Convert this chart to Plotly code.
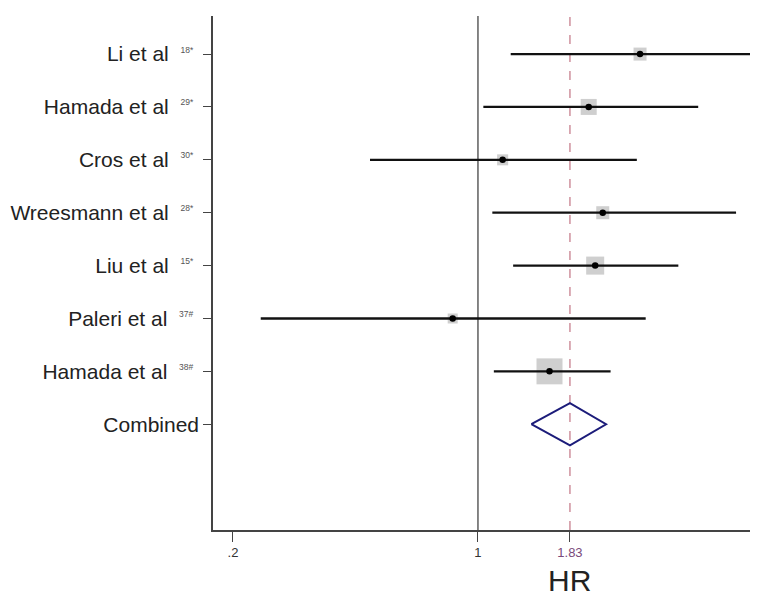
import math
import plotly.graph_objects as go

studies = ["Li et al", "Hamada et al", "Cros et al", "Wreesmann et al",
           "Liu et al", "Paleri et al", "Hamada et al"]
refs = ["18*", "29*", "30*", "28*", "15*", "37#", "38#"]
hr = [2.90, 2.07, 1.176, 2.27, 2.16, 0.847, 1.60]
lo = [1.24, 1.036, 0.492, 1.099, 1.26, 0.240, 1.11]
hi = [7.5, 4.25, 2.84, 5.45, 3.73, 3.01, 2.39]
weights = [9.3, 14.1, 6.7, 9.3, 17.9, 5.5, 37.2]

combined_label = "Combined"
combined_hr = 1.83
combined_lo = 1.42
combined_hi = 2.32

xtick_vals = [0.2, 1, 1.83]
xtick_text = [".2", "1", "1.83"]

n = len(studies)
ypos = list(range(1, n + 1))
y_comb = n + 1

fig = go.Figure()

# weight boxes
fig.add_trace(go.Scatter(
    x=hr, y=ypos, mode="markers",
    marker=dict(symbol="square", size=[4.26 * math.sqrt(w) for w in weights],
                color="#bababa", line=dict(width=0)),
    hoverinfo="skip", showlegend=False))

# CI lines
for i in range(n):
    fig.add_trace(go.Scatter(
        x=[lo[i], hi[i]], y=[ypos[i], ypos[i]], mode="lines",
        line=dict(color="#111111", width=2.3),
        hoverinfo="skip", showlegend=False))

# point estimates
fig.add_trace(go.Scatter(
    x=hr, y=ypos, mode="markers",
    marker=dict(symbol="circle", size=6.5, color="#000000"),
    hoverinfo="skip", showlegend=False))

# combined diamond
fig.add_trace(go.Scatter(
    x=[combined_lo, combined_hr, combined_hi, combined_hr, combined_lo],
    y=[y_comb, y_comb - 0.4, y_comb, y_comb + 0.4, y_comb],
    mode="lines", line=dict(color="#1c1c7a", width=2),
    hoverinfo="skip", showlegend=False))

# reference lines
fig.add_shape(type="line", xref="x", yref="paper",
              x0=1, x1=1, y0=0, y1=1,
              line=dict(color="#444444", width=1.3), layer="below")
fig.add_shape(type="line", xref="x", yref="paper",
              x0=combined_hr, x1=combined_hr, y0=0, y1=1,
              line=dict(color="#c27484", width=1.2, dash="dash"), layer="below")

NB = "\u00a0"
ytext = [f"{s}{NB}{NB}<sup><span style='font-size:8.5px;color:#555'>{r}</span></sup>{NB}"
         for s, r in zip(studies, refs)] + [combined_label]

xtext = [xtick_text[0], xtick_text[1],
         f"<span style='color:#7a4a7a'>{xtick_text[2]}</span>"]

fig.update_layout(
    width=750, height=587,
    margin=dict(l=205, r=0, t=8, b=65, autoexpand=False),
    paper_bgcolor="white", plot_bgcolor="white",
    font=dict(family="Liberation Sans, Arial, sans-serif", color="#222222"),
    xaxis=dict(type="log", range=[-0.756, 0.799],
               tickvals=xtick_vals, ticktext=xtext,
               ticks="outside", ticklen=10, tickcolor="#444", tickwidth=1.3,
               showline=True, linecolor="#444", linewidth=1.5,
               showgrid=False, zeroline=False, automargin=False,
               tickfont=dict(size=13, color="#333333")),
    yaxis=dict(range=[10.0, 0.28], tickvals=ypos + [y_comb], ticktext=ytext,
               ticks="outside", ticklen=8, tickcolor="#444", tickwidth=1.3,
               showline=True, linecolor="#444", linewidth=1.5,
               showgrid=False, zeroline=False, automargin=False,
               tickfont=dict(size=21, color="#222222")),
    annotations=[dict(text="HR", xref="x", yref="paper",
                      x=math.log10(combined_hr), y=-0.099,
                      xanchor="center", yanchor="middle", showarrow=False,
                      font=dict(size=30, color="#222222"))],
)

fig.write_html("out.html")
